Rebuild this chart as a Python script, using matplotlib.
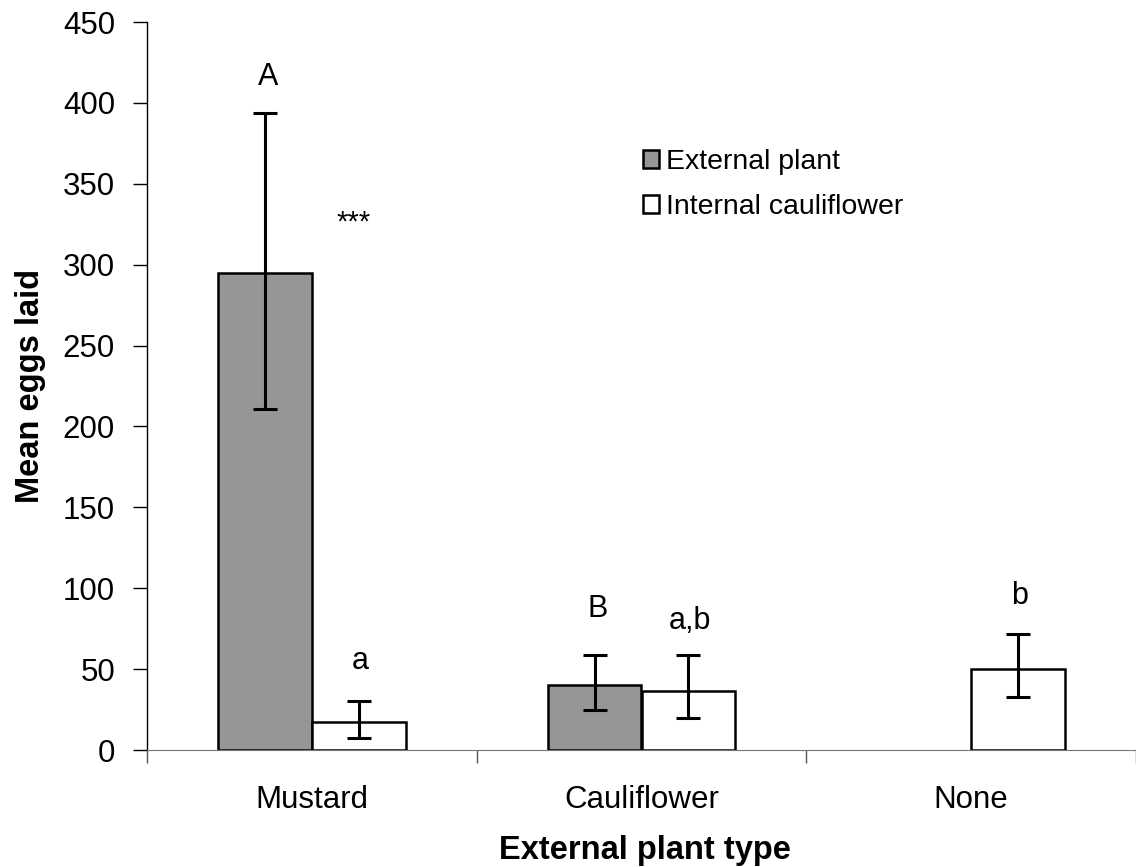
import matplotlib as mpl
mpl.use('agg')
import matplotlib.pyplot as plt
import numpy as np

plt.rc('font', family='sans-serif', size=22)
plt.rcParams['font.sans-serif'] = ['Liberation Sans', 'DejaVu Sans']

categories = ["Mustard", "Cauliflower", "None"]
# external plant (no external plant for "None")
ext_mean = [295, 40, np.nan]
ext_hi = [393.5, 58.5, np.nan]
ext_lo = [211, 25, np.nan]
# internal cauliflower
int_mean = [17, 36.5, 50]
int_hi = [30.5, 58.5, 71.5]
int_lo = [7.5, 19.5, 32.5]

ext_letters = ["A", "B", ""]
int_letters = ["a", "a,b", "b"]
ext_letter_y = [416, 87, None]
int_letter_y = [55, 80, 95]

x = np.arange(len(categories))
w = 0.285

fig = plt.figure(figsize=(11.36, 8.67), dpi=100)
ax = fig.add_axes([147/1136, 1-750/867, 1-147/1136, (750-22)/867])

ext_mean_a = np.array(ext_mean)
int_mean_a = np.array(int_mean)
ext_err = [ext_mean_a - np.array(ext_lo), np.array(ext_hi) - ext_mean_a]
int_err = [int_mean_a - np.array(int_lo), np.array(int_hi) - int_mean_a]

ax.bar(x - w/2, ext_mean, w, color='#969696', edgecolor='black', linewidth=1.8,
       label="External plant", zorder=2)
ax.bar(x + w/2, int_mean, w, color='white', edgecolor='black', linewidth=1.8,
       label="Internal cauliflower", zorder=2)
ax.errorbar(x - w/2, ext_mean, yerr=ext_err, fmt='none', ecolor='black',
            elinewidth=2.2, capsize=8.5, capthick=2.2, zorder=3)
ax.errorbar(x + w/2, int_mean, yerr=int_err, fmt='none', ecolor='black',
            elinewidth=2.2, capsize=8.5, capthick=2.2, zorder=3)

for i in range(len(categories)):
    if ext_letters[i]:
        ax.text(x[i] - w/2 + 0.01, ext_letter_y[i], ext_letters[i],
                ha='center', va='center', fontsize=22)
    ax.text(x[i] + w/2 + 0.005, int_letter_y[i], int_letters[i],
            ha='center', va='center', fontsize=22)
ax.text(x[0] + 0.127, 326, "***", ha='center', va='center', fontsize=21)

ax.set_xlim(-0.5, -0.5 + 989/330.5)
ax.set_ylim(0, 450)
ax.set_yticks(np.arange(0, 451, 50))
ax.set_xticks(x)
ax.set_xticklabels(categories, fontsize=22.5)
ax.set_xticks(np.arange(-0.5, 2.6, 1.0), minor=True)
ax.tick_params(axis='x', which='major', length=0, pad=25)
ax.tick_params(axis='x', which='minor', length=9, width=1, color='#555555',
               direction='out')
ax.tick_params(axis='y', length=10, width=1, direction='out', labelsize=22.5, pad=13)

ax.spines['top'].set_visible(False)
ax.spines['right'].set_visible(False)
ax.spines['bottom'].set_color('#777777')
ax.spines['left'].set_linewidth(1)

ax.set_xlabel("External plant type", fontsize=23.5, fontweight='bold')
ax.set_ylabel("Mean eggs laid", fontsize=23.5, fontweight='bold')
ax.xaxis.set_label_coords((645-147)/989, (750-835)/728)
ax.yaxis.set_label_coords((46-147)/989, 0.5)

ax.legend(loc='upper left', bbox_to_anchor=(643/1136, 1-149/867),
          bbox_transform=fig.transFigure, frameon=False, fontsize=20.5,
          handlelength=0.56, handleheight=0.56, handletextpad=0.25,
          labelspacing=0.67, borderpad=0, borderaxespad=0)

fig.savefig("out.png", dpi=100)
